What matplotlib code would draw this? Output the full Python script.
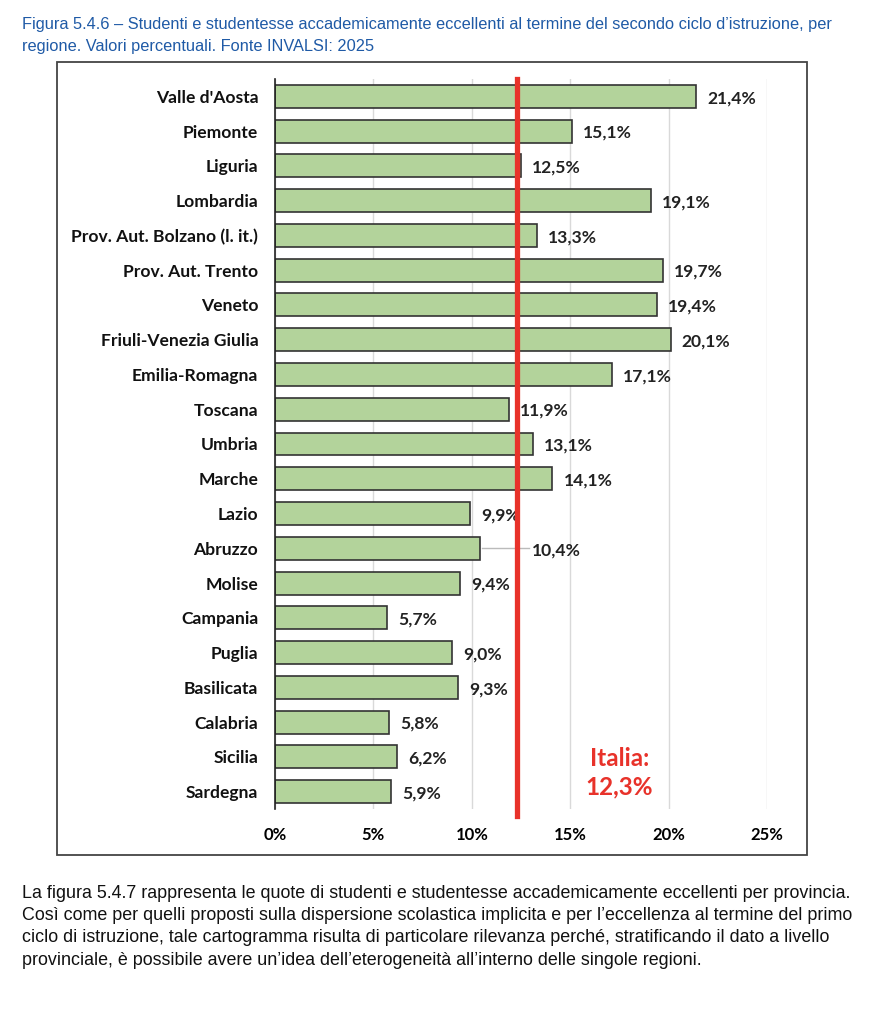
import matplotlib
matplotlib.use("Agg")
import matplotlib.pyplot as plt
from matplotlib.patches import Rectangle

regioni = ["Valle d'Aosta", "Piemonte", "Liguria", "Lombardia",
           "Prov. Aut. Bolzano (l. it.)", "Prov. Aut. Trento", "Veneto",
           "Friuli-Venezia Giulia", "Emilia-Romagna", "Toscana", "Umbria",
           "Marche", "Lazio", "Abruzzo", "Molise", "Campania", "Puglia",
           "Basilicata", "Calabria", "Sicilia", "Sardegna"]
valori = [21.4, 15.1, 12.5, 19.1, 13.3, 19.7, 19.4, 20.1, 17.1, 11.9, 13.1,
          14.1, 9.9, 10.4, 9.4, 5.7, 9.0, 9.3, 5.8, 6.2, 5.9]
italia = 12.3
xticks = [0, 5, 10, 15, 20, 25]

titolo = ["Figura 5.4.6 \u2013 Studenti e studentesse accademicamente eccellenti al termine del secondo ciclo d\u2019istruzione, per",
          "regione. Valori percentuali. Fonte INVALSI: 2025"]
testo = ["La figura 5.4.7 rappresenta le quote di studenti e studentesse accademicamente eccellenti per provincia.",
         "Cos\u00ec come per quelli proposti sulla dispersione scolastica implicita e per l\u2019eccellenza al termine del primo",
         "ciclo di istruzione, tale cartogramma risulta di particolare rilevanza perch\u00e9, stratificando il dato a livello",
         "provinciale, \u00e8 possibile avere un\u2019idea dell\u2019eterogeneit\u00e0 all\u2019interno delle singole regioni."]

fam_chart = ["Lato", "DejaVu Sans"]
fam_doc = ["Liberation Sans", "DejaVu Sans"]

fig = plt.figure(figsize=(8.71, 10.24), dpi=100)
W, H = 871, 1024

# titolo pagina
for i, riga in enumerate(titolo):
    fig.text(22 / W, 1 - (25 + i * 21) / H, riga, family=fam_doc, fontsize=11.75,
             color="#1f5aa6", va="center", ha="left")

# cornice del grafico
fig.patches.append(Rectangle((57 / W, 1 - 855 / H), 750 / W, 793 / H,
                             transform=fig.transFigure, fill=False,
                             edgecolor="#444444", linewidth=1.3))

ax = fig.add_axes([275 / W, 1 - 809 / H, 492 / W, 730 / H])
y = list(range(len(regioni)))
ax.barh(y, valori, height=0.66, color="#b3d39b", edgecolor="#333333", linewidth=1.2, zorder=3)
ax.set_xlim(0, 25)
ax.set_ylim(len(regioni) - 0.5, -0.5)
ax.set_xticks(xticks)
ax.set_xticklabels([f"{t}%" for t in xticks], family=fam_chart, fontsize=12, fontweight="bold")
ax.set_yticks(y)
ax.set_yticklabels(regioni, family=fam_chart, fontsize=12.6, fontweight="bold", color="#111111")
ax.tick_params(length=0, pad=12)
ax.tick_params(axis="x", pad=13)
ax.xaxis.grid(True, color="#d9d9d9", linewidth=1, zorder=0)
for s in ["top", "right", "bottom"]:
    ax.spines[s].set_visible(False)
ax.spines["left"].set_color("#222222")
ax.spines["left"].set_linewidth(1.2)
ax.spines["left"].set_zorder(4)

for yi, v, nome in zip(y, valori, regioni):
    lab = f"{v:.1f}%".replace(".", ",")
    if nome == "Abruzzo":
        ax.plot([v + 0.1, italia + 0.6], [yi, yi], color="#bbbbbb", linewidth=1, zorder=2)
        ax.text(italia + 0.75, yi + 0.05, lab, va="center", ha="left", family=fam_chart,
                fontsize=12.6, fontweight="bold", color="#222222")
    else:
        ax.annotate(lab, (v, yi + 0.05), xytext=(8, 0), textcoords="offset points",
                    va="center", ha="left", family=fam_chart, fontsize=12.6,
                    fontweight="bold", color="#222222")

ax.axvline(italia, ymin=-0.01, ymax=1.0, color="#e8322a", linewidth=3.8, zorder=5, clip_on=False)
ax.text(17.5, 19.45, "Italia:\n12,3%", color="#e8322a", family=fam_chart, fontsize=17.5,
        fontweight="bold", ha="center", va="center", linespacing=1.3)

# testo sotto il grafico
for i, riga in enumerate(testo):
    fig.text(22 / W, 1 - (893 + i * 22.5) / H, riga, family=fam_doc, fontsize=12.9,
             color="#111111", va="center", ha="left")

fig.savefig("out.png", dpi=100)
